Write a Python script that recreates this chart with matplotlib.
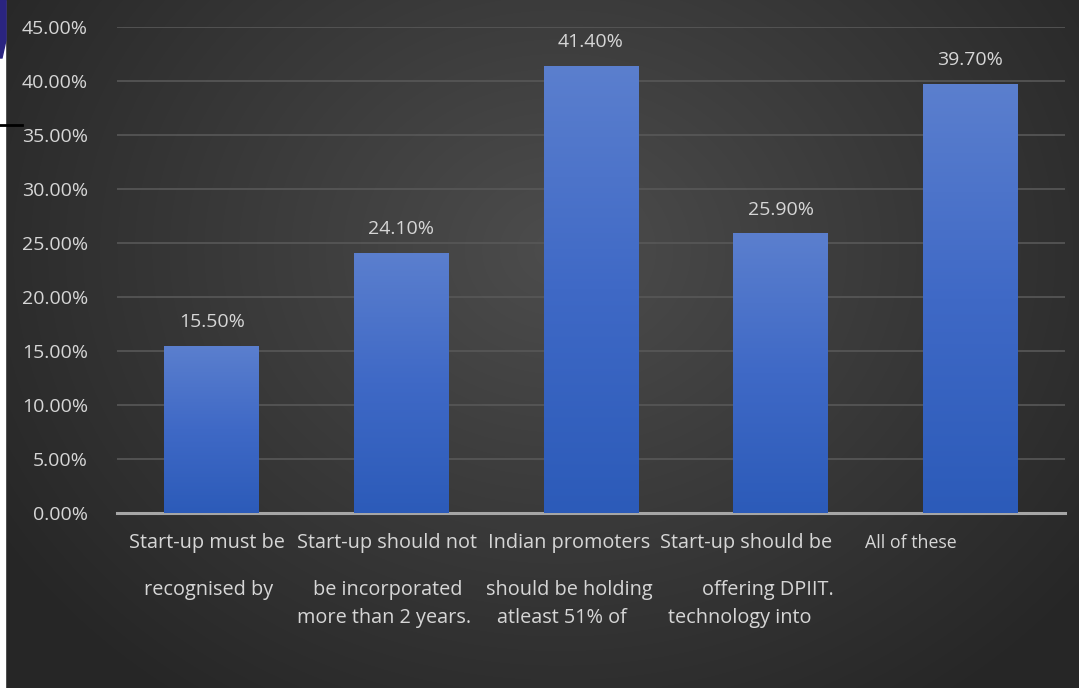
import numpy as np
import matplotlib.pyplot as plt
import matplotlib.patches as mpatches
from matplotlib.colors import LinearSegmentedColormap

# survey answers: eligibility conditions for start-up recognition
label_lines = [
    ["Start-up must be", "recognised by"],
    ["Start-up should not", "be incorporated", "more than 2 years."],
    ["Indian promoters", "should be holding", "atleast 51% of"],
    ["Start-up should be", "offering DPIIT.", "technology into"],
    ["All of these"],
]
shares = [15.5, 24.1, 41.4, 25.9, 39.7]
y_ticks = [0, 5, 10, 15, 20, 25, 30, 35, 40, 45]

# text-box layout (pixel centres of each label line)
label_x = [
    [207, 209],
    [387, 388, 384],
    [569, 569, 562],
    [746, 768, 740],
    [911],
]
line_y = [543, 590, 618]

W, H = 1079, 688
fig = plt.figure(figsize=(W / 100, H / 100), dpi=100)
txt = "#d6d6d6"

# ── background: dark radial gradient ─────────────────────────────────────────
bg = fig.add_axes([0, 0, 1, 1])
yy, xx = np.mgrid[0:H, 0:W]
r = np.sqrt(((xx - 560) / 620.0) ** 2 + ((yy - 250) / 520.0) ** 2)
shade = np.clip(0.30 - 0.14 * r, 0.15, 0.30)
bg.imshow(np.dstack([shade] * 3), extent=[0, W, H, 0], aspect="auto")
bg.set_xlim(0, W)
bg.set_ylim(H, 0)
bg.axis("off")

# white strip and logo fragment on the left edge
bg.add_patch(mpatches.Rectangle((0, 0), 5, H, color="white", zorder=2))
bg.add_patch(mpatches.Polygon([(0, 0), (6, 0), (6, 40), (2, 58), (0, 58)],
                              color="#2a2480", zorder=3))
bg.plot([0, 22], [125, 125], color="black", linewidth=2, zorder=3)

# category labels sit in a separate text box under the plot
for lines, xs in zip(label_lines, label_x):
    for j, (line, lx) in enumerate(zip(lines, xs)):
        fs = 12.8 if line == "All of these" else 14.3
        bg.text(lx, line_y[j], line, ha="center", va="center", color=txt,
                fontsize=fs, family="Open Sans", zorder=4)

# ── bar chart ────────────────────────────────────────────────────────────────
x_left, x_right = 117, 1065
y_top, y_bot = 27, 513
ax = fig.add_axes([x_left / W, 1 - y_bot / H,
                   (x_right - x_left) / W, (y_bot - y_top) / H])
ax.patch.set_alpha(0)

x = np.arange(len(shares))
bars = ax.bar(x, shares, width=0.5, color="#4470cc", zorder=3)

bar_cmap = LinearSegmentedColormap.from_list(
    "barfade", ["#2c5bb9", "#3f69c6", "#5b7fce"])
grad = np.linspace(0, 1, 256).reshape(-1, 1)
for b in bars:
    bx, bw, bh = b.get_x(), b.get_width(), b.get_height()
    im = ax.imshow(grad, cmap=bar_cmap, origin="lower", aspect="auto",
                   extent=[bx, bx + bw, 0, bh], zorder=4)
    im.set_clip_path(b)
    ax.text(bx + bw / 2, bh + 2.2, f"{bh:.2f}%", ha="center", va="center",
            color=txt, fontsize=14, family="Open Sans", zorder=5)

ax.set_xlim(-0.5, len(shares) - 0.5)
ax.set_ylim(0, 45)
ax.set_yticks(y_ticks)
ax.set_yticklabels([f"{v:.2f}%" for v in y_ticks], color=txt,
                   fontsize=14, family="Open Sans")
ax.tick_params(axis="y", length=0, pad=21)
ax.yaxis.grid(True, color="#585858", linewidth=1.2, zorder=0)
ax.set_axisbelow(True)

ax.set_xticks(x)
ax.set_xticklabels([])
ax.tick_params(axis="x", length=0)

for side in ("top", "right", "left"):
    ax.spines[side].set_visible(False)
ax.spines["bottom"].set_color("#a6a6a6")
ax.spines["bottom"].set_linewidth(2.2)

fig.savefig("out.png", dpi=100)
